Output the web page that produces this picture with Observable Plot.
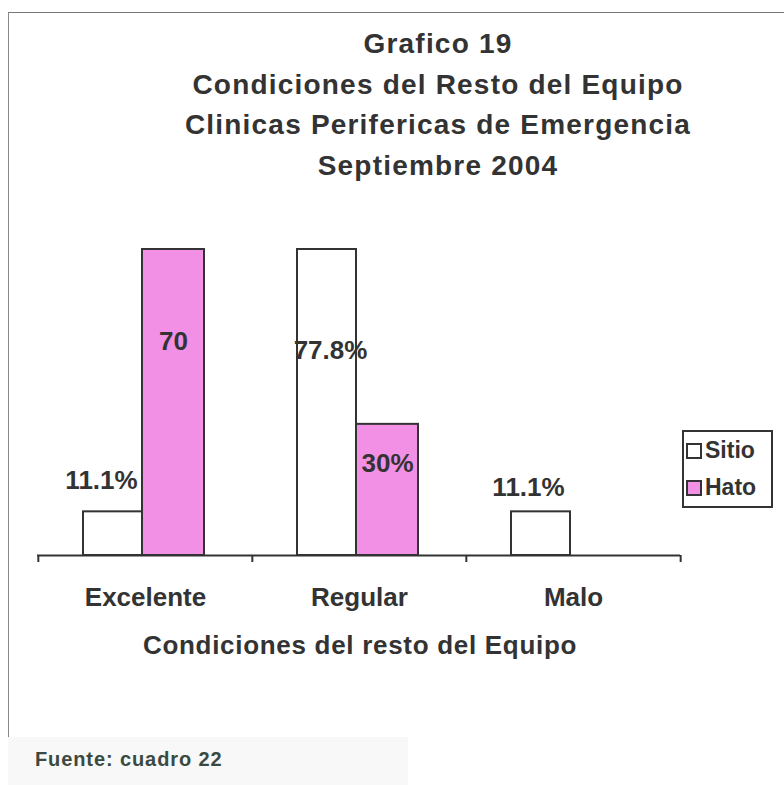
<!DOCTYPE html>
<html>
<head>
<meta charset="utf-8">
<script src="https://cdn.jsdelivr.net/npm/d3@7"></script>
<script src="https://cdn.jsdelivr.net/npm/@observablehq/plot@0.6"></script>
<style>
  html, body { margin: 0; padding: 0; background: #fff; }
  #page { position: relative; width: 784px; height: 785px; overflow: hidden; background: #fff;
          font-family: "Liberation Sans", Arial, sans-serif; font-weight: bold; color: #333; }
  #frameTop { position: absolute; left: 8px; top: 12px; width: 776px; height: 0; border-top: 1px solid #777; }
  #frameLeft { position: absolute; left: 8px; top: 12px; width: 0; height: 773px; border-left: 1px solid #888; }
  #title { position: absolute; left: 88px; width: 700px; top: 24px; text-align: center;
           font-size: 28px; line-height: 40.5px; letter-spacing: 1.2px; }
  #chart { position: absolute; left: 0; top: 200px; }
  #xtitle { position: absolute; left: 60px; width: 600px; top: 630px; text-align: center;
            font-size: 26px; letter-spacing: 0.7px; }
  #legend { position: absolute; left: 682px; top: 430px; width: 87px; height: 74px;
            border: 2px solid #333; font-size: 23px; }
  .item { position: absolute; left: 2px; display: flex; align-items: center; }
  .sw { width: 12px; height: 12px; border: 2px solid #333; margin-right: 3px; }
  #captionBox { position: absolute; left: 8px; top: 737px; width: 400px; height: 48px; background: #f8f8f8; }
  #caption { position: absolute; left: 35px; top: 748px; font-size: 20px; color: #3a4a40; letter-spacing: 0.9px; }
</style>
</head>
<body>
<div id="page">
  <div id="frameTop"></div>
  <div id="frameLeft"></div>
  <div id="title"></div>
  <div id="chart"></div>
  <div id="xtitle"></div>
  <div id="legend"></div>
  <div id="captionBox"></div>
  <div id="caption"></div>
</div>
<script>
// ---- data ----
const titleLines = ["Grafico 19", "Condiciones del Resto del Equipo", "Clinicas Perifericas de Emergencia", "Septiembre 2004"];
const xAxisTitle = "Condiciones del resto del Equipo";
const caption = "Fuente: cuadro 22";
const categories = ["Excelente", "Regular", "Malo"];
const seriesNames = ["Sitio", "Hato"];
const seriesColors = ["#ffffff", "#f290e6"];
const sitioValues = [11.1, 77.8, 11.1];
const hatoValues = [70, 30, 0];
const sitioLabels = ["11.1%", "77.8%", "11.1%"];
const hatoLabels = ["70", "30%", ""];

// ---- build rows ----
const sitioRows = categories.map((c, i) => ({category: c, series: seriesNames[0], value: sitioValues[i], label: sitioLabels[i]}));
const hatoRows = categories.map((c, i) => ({category: c, series: seriesNames[1], value: hatoValues[i], label: hatoLabels[i]}));

// Each series is drawn against its own (hidden) axis, scaled to its maximum, as in the original
const norm = (o) => Plot.normalizeY("max", o);
const half = (680 - 37) / 6;

const ink = "#333";
const labelFont = {fontSize: 26, fontWeight: "bold", fill: ink, fontFamily: "Liberation Sans, Arial, sans-serif"};
const pick = (k) => (d, i) => (i === k ? d.label : null);

const chart = Plot.plot({
  width: 784,
  height: 420,
  marginLeft: 37,
  marginRight: 104,
  marginTop: 49,
  marginBottom: 65,
  style: {background: "transparent", color: ink, fontFamily: "Liberation Sans, Arial, sans-serif"},
  x: {domain: categories, paddingInner: 0, paddingOuter: 0},
  y: {domain: [0, 1], axis: null},
  marks: [
    Plot.barY(hatoRows, norm({x: "category", y: "value", fill: seriesColors[1], stroke: ink, strokeWidth: 2, insetLeft: 104, insetRight: 48})),
    Plot.barY(sitioRows, norm({x: "category", y: "value", fill: seriesColors[0], stroke: ink, strokeWidth: 2, insetLeft: 45, insetRight: 110})),
    Plot.ruleY([0], {stroke: ink, strokeWidth: 2}),
    Plot.ruleX(categories, {x: d => d, dx: -half, y1: 0, y2: 0, insetBottom: -7, stroke: ink, strokeWidth: 2}),
    Plot.ruleX(categories.slice(-1), {x: d => d, dx: half, y1: 0, y2: 0, insetBottom: -7, stroke: ink, strokeWidth: 2}),
    Plot.axisX({tickSize: 0, tickPadding: 32, fontSize: 26, fontWeight: "bold", fill: ink, label: null, style: {letterSpacing: "0.5px"}}),
    // value labels
    Plot.text(sitioRows, norm({x: "category", y: "value", text: pick(0), dx: -44, dy: -31, ...labelFont})),
    Plot.text(sitioRows, norm({x: "category", y: "value", text: pick(1), dx: -29, dy: 101, ...labelFont})),
    Plot.text(sitioRows, norm({x: "category", y: "value", text: pick(2), dx: -45, dy: -24, ...labelFont})),
    Plot.text(hatoRows, norm({x: "category", y: "value", text: pick(0), dx: 28, dy: 92, ...labelFont})),
    Plot.text(hatoRows, norm({x: "category", y: "value", text: pick(1), dx: 28, dy: 39, ...labelFont}))
  ]
});
document.getElementById("chart").appendChild(chart);

// ---- texts ----
const t = document.getElementById("title");
titleLines.forEach(s => { const d = document.createElement("div"); d.textContent = s; t.appendChild(d); });
document.getElementById("xtitle").textContent = xAxisTitle;
document.getElementById("caption").textContent = caption;

// ---- legend ----
const lg = document.getElementById("legend");
seriesNames.forEach((s, i) => {
  const it = document.createElement("div");
  it.className = "item";
  it.style.top = (5 + i * 37) + "px";
  const sw = document.createElement("div");
  sw.className = "sw";
  sw.style.background = seriesColors[i];
  const tx = document.createElement("span");
  tx.textContent = s;
  it.appendChild(sw); it.appendChild(tx);
  lg.appendChild(it);
});
</script>
</body>
</html>
